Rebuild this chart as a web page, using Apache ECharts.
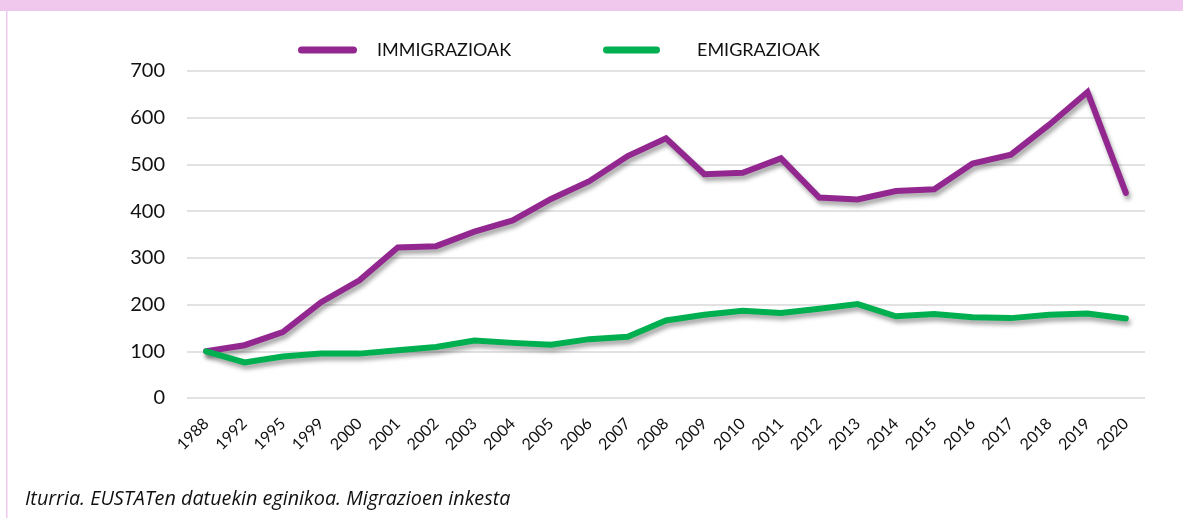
<!DOCTYPE html>
<html>
<head>
<meta charset="utf-8">
<script src="https://cdn.jsdelivr.net/npm/echarts@6/dist/echarts.min.js"></script>
<style>
  html, body { margin: 0; padding: 0; background: #fff; }
  #chart { width: 1183px; height: 518px; }
</style>
</head>
<body>
<div id="chart"></div>
<script>
const categories = ['1988','1992','1995','1999','2000','2001','2002','2003','2004','2005','2006','2007','2008','2009','2010','2011','2012','2013','2014','2015','2016','2017','2018','2019','2020'];
const immigrazioak = [100, 113, 141, 205, 252, 322, 325, 356, 380, 426, 464, 518, 556, 479, 482, 513, 429, 425, 443, 447, 502, 521, 585, 655, 439];
const emigrazioak = [100, 76, 89, 95, 95, 102, 109, 123, 118, 114, 126, 131, 166, 178, 187, 182, 191, 201, 175, 180, 173, 171, 178, 181, 170];
const yTicks = { min: 0, max: 700, interval: 100 };
const sourceText = 'Iturria. EUSTATen datuekin eginikoa. Migrazioen inkesta';

const FONT = 'Lato, "Open Sans", sans-serif';
const chart = echarts.init(document.getElementById('chart'), null, { renderer: 'canvas' });
const pillIcon = 'path://M3.5,0 H55.5 A3.5,3.5 0 0 1 55.5,7 H3.5 A3.5,3.5 0 0 1 3.5,0 Z';

chart.setOption({
  animation: false,
  backgroundColor: '#fff',
  graphic: [
    { type: 'rect', left: 0, top: 0, shape: { width: 1183, height: 11 }, style: { fill: '#F0C8EE' }, z: 100 },
    { type: 'rect', left: 6, top: 0, shape: { width: 1.5, height: 518 }, style: { fill: '#F0C8EE' }, z: 100 },
    { type: 'text', left: 25, top: 489, style: { text: sourceText, font: 'italic 19.8px "Open Sans", sans-serif', fill: '#111' } }
  ],
  legend: [
    { left: 293, top: 35, data: ['IMMIGRAZIOAK'], icon: pillIcon, itemWidth: 59, itemHeight: 7,
      textStyle: { fontFamily: FONT, fontSize: 18, color: '#111', padding: [0, 0, 0, 15], lineHeight: 20 } },
    { left: 598, top: 35, data: ['EMIGRAZIOAK'], icon: pillIcon, itemWidth: 57, itemHeight: 7,
      textStyle: { fontFamily: FONT, fontSize: 18, color: '#111', padding: [0, 0, 0, 32], lineHeight: 20 } }
  ],
  grid: { left: 187, right: 38, top: 71, bottom: 120, containLabel: false },
  xAxis: {
    type: 'category',
    data: categories,
    boundaryGap: true,
    axisLine: { show: false },
    axisTick: { show: false },
    axisLabel: { rotate: 45, fontFamily: FONT, fontSize: 16, color: '#111', margin: 23, interval: 0 }
  },
  yAxis: {
    type: 'value',
    min: yTicks.min, max: yTicks.max, interval: yTicks.interval,
    axisLine: { show: false },
    axisTick: { show: false },
    axisLabel: { fontFamily: FONT, fontSize: 20, color: '#111', margin: 22 },
    splitLine: { lineStyle: { color: '#D9D9D9', width: 1.5 } }
  },
  series: [
    { name: 'IMMIGRAZIOAK', type: 'line', data: immigrazioak, symbol: 'none', color: '#92278F',
      lineStyle: { width: 6, color: '#92278F', join: 'miter', cap: 'round',
        shadowColor: 'rgba(0,0,0,0.35)', shadowBlur: 4, shadowOffsetX: 2, shadowOffsetY: 4 } },
    { name: 'EMIGRAZIOAK', type: 'line', data: emigrazioak, symbol: 'none', color: '#00B050',
      lineStyle: { width: 6, color: '#00B050', join: 'miter', cap: 'round',
        shadowColor: 'rgba(0,0,0,0.35)', shadowBlur: 4, shadowOffsetX: 2, shadowOffsetY: 4 } }
  ]
});
</script>
</body>
</html>
